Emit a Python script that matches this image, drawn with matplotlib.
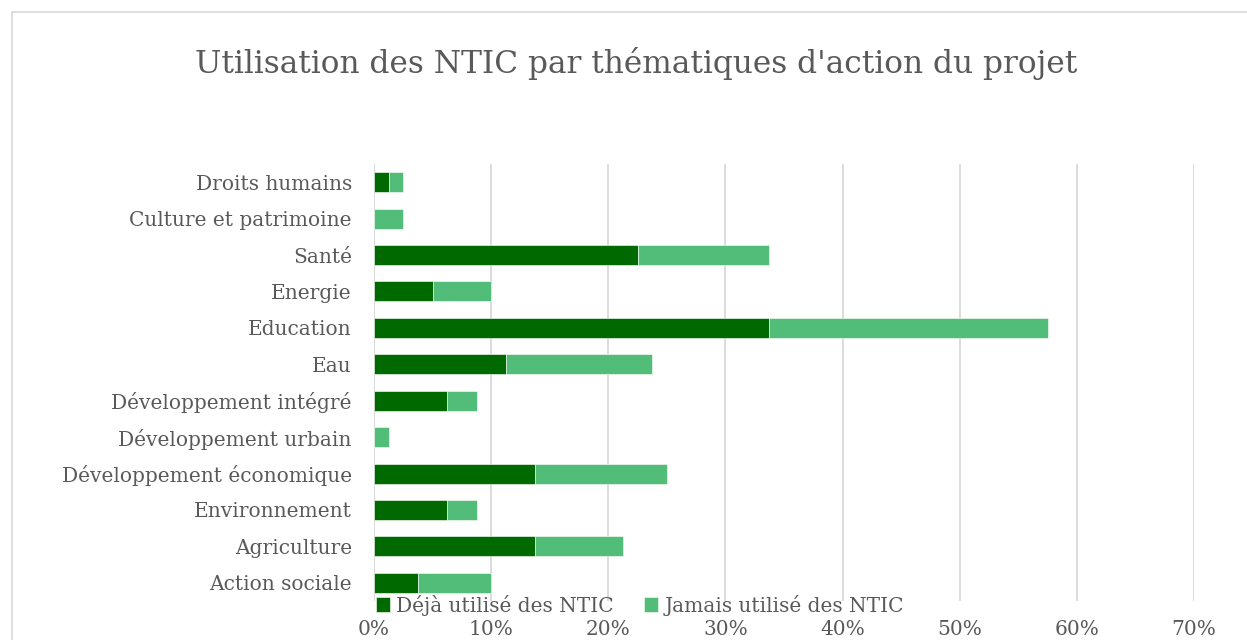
import matplotlib
matplotlib.use("Agg")
import matplotlib.pyplot as plt
from matplotlib.lines import Line2D
from matplotlib.ticker import PercentFormatter

categories = ["Action sociale", "Agriculture", "Environnement", "Développement économique",
              "Développement urbain", "Développement intégré", "Eau", "Education",
              "Energie", "Santé", "Culture et patrimoine", "Droits humains"]
deja = [3.75, 13.75, 6.25, 13.75, 0.0, 6.25, 11.25, 33.75, 5.0, 22.5, 0.0, 1.25]
jamais = [6.25, 7.5, 2.5, 11.25, 1.25, 2.5, 12.5, 23.75, 5.0, 11.25, 2.5, 1.25]
series_names = ["Déjà utilisé des NTIC", "Jamais utilisé des NTIC"]
xticks = [0, 10, 20, 30, 40, 50, 60, 70]

dark = "#006A00"
light = "#52BD78"
txt = "#595959"
font = ["DejaVu Serif"]

W, H = 1247, 640
fig = plt.figure(figsize=(W / 100, H / 100), dpi=100)
bx, by = 11.5 / W, 1 - 11.5 / H
fig.lines.append(Line2D([bx, 1.0], [by, by], transform=fig.transFigure,
                        color="#D9D9D9", linewidth=1.2))
fig.lines.append(Line2D([bx, bx], [0.0, by], transform=fig.transFigure,
                        color="#D9D9D9", linewidth=1.2))

ax = fig.add_axes([374 / W, 1 - 601 / H, (1194 - 374) / W, (601 - 164) / H])
y = range(len(categories))
b1 = ax.barh(y, deja, height=0.55, color=dark, edgecolor="white", linewidth=0.4,
             label=series_names[0], zorder=3)
b2 = ax.barh(y, jamais, left=deja, height=0.55, color=light, edgecolor="white",
             linewidth=0.4, label=series_names[1], zorder=3)

ax.set_xlim(0, 70)
ax.set_ylim(-0.5, len(categories) - 0.5)
ax.set_xticks(xticks)
ax.xaxis.set_major_formatter(PercentFormatter(decimals=0))
ax.set_yticks(list(y))
ax.set_yticklabels(categories)
ax.grid(axis="x", color="#D9D9D9", linewidth=1.3, zorder=0)
for s in ax.spines.values():
    s.set_visible(False)
ax.axvline(0, color="#D9D9D9", linewidth=1.3, zorder=1)
ax.tick_params(axis="both", length=0, colors=txt, labelsize=14.5)
ax.tick_params(axis="x", pad=14)
ax.tick_params(axis="y", pad=16)
for lab in ax.get_xticklabels() + ax.get_yticklabels():
    lab.set_family(font)
    lab.set_color(txt)

fig.text(636 / W, 1 - 64 / H, "Utilisation des NTIC par thématiques d'action du projet",
         ha="center", va="center", fontsize=22.5, color=txt, family=font)

leg = fig.legend(handles=[b1, b2], loc="center", bbox_to_anchor=(640 / W, 1 - 605 / H),
                 ncol=2, frameon=False, handlelength=0.7, handleheight=0.7,
                 handletextpad=0.3, columnspacing=1.5,
                 prop={"family": font, "size": 14.5})
for t in leg.get_texts():
    t.set_color(txt)

fig.savefig("out.png", dpi=100)
